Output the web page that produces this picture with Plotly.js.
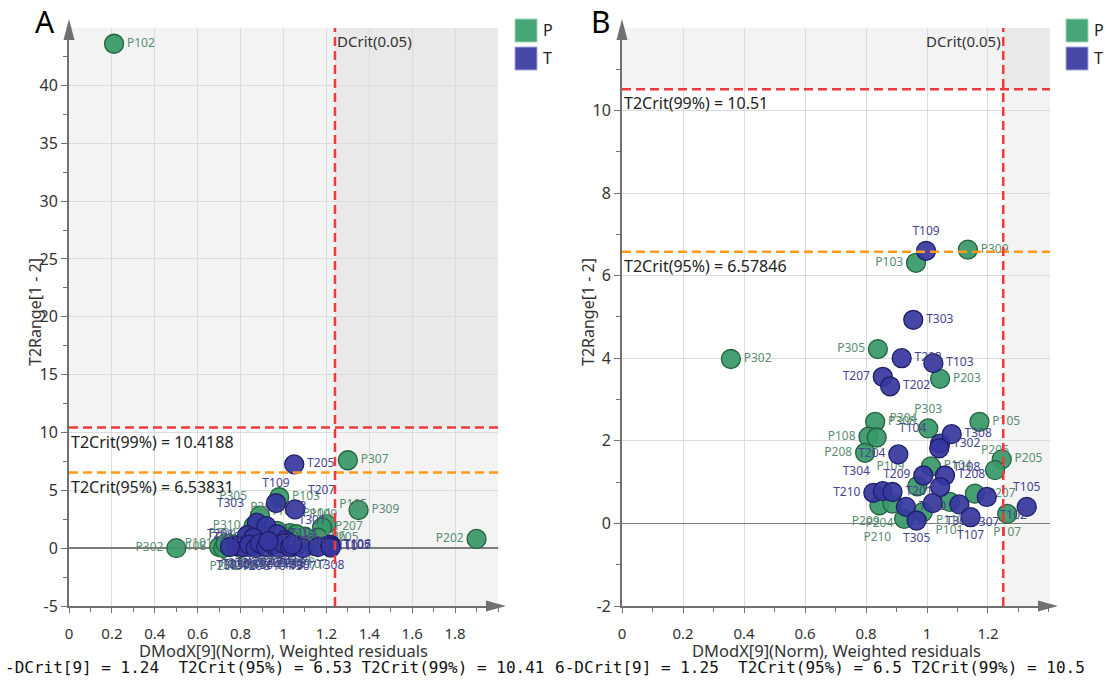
<!DOCTYPE html>
<html>
<head>
<meta charset="utf-8">
<script src="https://cdn.plot.ly/plotly-3.0.1.min.js"></script>
<style>
  html, body { margin: 0; padding: 0; background: #fff; }
  #chart { width: 1106px; height: 680px; }
</style>
</head>
<body>
<div id="chart"></div>
<script>
// ---------- Panel A: model with all observations ----------
const aPNames = ['P102','P307','P309','P202','P302','P103','P305','P310','P105','P207','P205','P108','P208','P104','P304','P301','P201','P203','P206','P209','P210','P101','P106','P107','P109','P110','P303','P204','P308','P306'];
const aPX     = [0.21, 1.30, 1.35, 1.90, 0.50, 0.98, 0.89, 0.86, 1.20, 1.18, 1.16, 0.70, 0.72, 1.03, 0.84, 0.92, 0.95, 1.00, 1.08, 0.77, 0.80, 0.73, 1.10, 1.14, 1.06, 0.97, 0.91, 0.88, 1.03, 0.86];
const aPY     = [43.6, 7.6, 3.3, 0.8, 0.0, 4.4, 2.8, 1.9, 2.1, 1.8, 0.9, 0.1, 0.0, 1.3, 1.2, 1.0, 0.3, 0.5, 0.6, 0.3, 0.0, 0.4, 1.0, 0.2, 1.2, 1.5, 1.8, 0.5, 0.8, 0.2];
const aPLabelPos = ['middle right','middle right','middle right','middle left','middle left','middle right','top left','middle left','top right','middle right','middle right','middle left','bottom center','top right','middle left','middle right','bottom center','bottom center','bottom center','bottom center','bottom center','middle left','middle right','bottom center','top right','top center','top center','bottom center','middle right','bottom center'];

const aTNames = ['T205','T109','T207','T303','T203','T201','T210','T104','T301','T108','T310','T306','T302','T206','T202','T304','T209','T101','T102','T103','T309','T307','T110','T105','T106','T107','T308','T204','T208','T305'];
const aTX     = [1.05, 0.965, 1.054, 0.876, 0.92, 0.83, 0.86, 0.97, 1.01, 1.02, 0.78, 0.81, 0.84, 0.87, 0.89, 0.92, 0.95, 0.98, 1.00, 1.03, 1.06, 1.09, 1.16, 1.22, 1.22, 1.22, 1.22, 0.93, 1.04, 0.75];
const aTY     = [7.24, 3.9, 3.35, 2.2, 1.9, 1.1, 0.9, 1.2, 0.7, 0.5, 0.2, 0.1, 0.3, 0.0, 0.4, 0.1, 0.3, 0.0, 0.4, 0.1, 0.2, 0.0, 0.1, 0.2, 0.3, 0.15, 0.05, 0.6, 0.3, 0.1];
const aTLabelPos = ['middle right','top center','top right','top left','top right','middle left','middle left','middle right','top right','middle right','bottom center','bottom center','bottom center','bottom center','bottom center','bottom center','bottom center','bottom center','bottom center','bottom center','bottom center','bottom center','middle right','middle right','middle right','middle right','bottom center','middle right','bottom center','bottom center'];

const aDCrit = 1.24, aT2Crit95 = 6.53831, aT2Crit99 = 10.4188;

// ---------- Panel B: model without the outlying observations ----------
const bPNames = ['P309','P103','P305','P302','P203','P308','P108','P304','P208','P303','P105','P205','P206','P104','P109','P207','P110','P204','P209','P210','P101','P107'];
const bPX     = [1.134, 0.964, 0.839, 0.357, 1.043, 0.830, 0.808, 0.835, 0.797, 1.004, 1.172, 1.245, 1.223, 1.013, 0.968, 1.157, 1.075, 0.844, 0.887, 0.925, 0.986, 1.263];
const bPY     = [6.63, 6.31, 4.22, 3.98, 3.50, 2.46, 2.10, 2.08, 1.71, 2.30, 2.46, 1.55, 1.29, 1.38, 0.90, 0.72, 0.52, 0.44, 0.48, 0.11, 0.27, 0.23];
const bPLabelPos = ['middle right','middle left','middle left','middle right','middle right','middle right','middle left','top right','middle left','top center','middle right','middle right','top center','middle right','top left','middle right','bottom center','bottom center','bottom left','bottom left','bottom right','bottom center'];

const bTNames = ['T109','T303','T203','T103','T207','T202','T204','T302','T104','T308','T209','T208','T108','T210','T304','T201','T110','T305','T309','T307','T107','T102','T105'];
const bTX     = [0.997, 0.955, 0.917, 1.021, 0.855, 0.879, 0.906, 1.043, 1.040, 1.081, 0.988, 1.059, 1.043, 0.824, 0.855, 0.887, 0.931, 0.966, 1.019, 1.106, 1.143, 1.196, 1.327];
const bTY     = [6.60, 4.93, 4.00, 3.88, 3.55, 3.32, 1.67, 1.93, 1.82, 2.16, 1.16, 1.16, 0.88, 0.74, 0.78, 0.76, 0.40, 0.07, 0.49, 0.46, 0.15, 0.64, 0.40];
const bTLabelPos = ['top center','middle right','middle right','middle right','middle left','middle right','middle left','middle right','top left','middle right','middle left','middle right','top right','middle left','top left','middle right','middle right','bottom center','bottom right','bottom right','bottom center','bottom right','top center'];

const bDCrit = 1.25, bT2Crit95 = 6.57846, bT2Crit99 = 10.51;

// ---------- tick labels ----------
const aXTicks = [0, 0.2, 0.4, 0.6, 0.8, 1, 1.2, 1.4, 1.6, 1.8];
const aXTickText = ['0','0.2','0.4','0.6','0.8','1','1.2','1.4','1.6','1.8'];
const aYTicks = [-5, 0, 5, 10, 15, 20, 25, 30, 35, 40];
const aYTickText = ['-5','0','5','10','15','20','25','30','35','40'];
const bXTicks = [0, 0.2, 0.4, 0.6, 0.8, 1, 1.2];
const bXTickText = ['0','0.2','0.4','0.6','0.8','1','1.2'];
const bYTicks = [-2, 0, 2, 4, 6, 8, 10];
const bYTickText = ['-2','0','2','4','6','8','10'];

const xTitle = 'DModX[9](Norm), Weighted residuals';
const yTitle = 'T2Range[1 - 2]';
const footA = '-DCrit[9] = 1.24  T2Crit(95%) = 6.53 T2Crit(99%) = 10.41';
const footB = '6-DCrit[9] = 1.25  T2Crit(95%) = 6.5 T2Crit(99%) = 10.5';

// ---------- styling ----------
const W = 1106, H = 680;
const px = x => x / W;            // page pixel -> paper x
const py = y => 1 - y / H;        // page pixel -> paper y
const FONT = 'Noto Sans, Open Sans, DejaVu Sans, sans-serif';
const GREEN = 'rgba(55,152,104,0.92)', GREEN_LINE = '#23623f', GREEN_TXT = '#5b8d72';
const BLUE = 'rgba(54,54,160,0.92)', BLUE_LINE = '#1f1f68', BLUE_TXT = '#45458e';
const AXIS = '#707070';

function pts(names, xs, ys, pos, fill, line, txt, xa, ya) {
  return {
    type: 'scatter', mode: 'markers+text', x: xs, y: ys, text: names,
    xaxis: xa, yaxis: ya, textposition: pos, cliponaxis: false,
    textfont: { family: FONT, size: 12, color: txt },
    marker: { size: 19, color: fill, line: { color: line, width: 1.3 } },
    hoverinfo: 'text', showlegend: false
  };
}

const data = [
  pts(aPNames, aPX, aPY, aPLabelPos, GREEN, GREEN_LINE, GREEN_TXT, 'x', 'y'),
  pts(aTNames, aTX, aTY, aTLabelPos, BLUE, BLUE_LINE, BLUE_TXT, 'x', 'y'),
  pts(bPNames, bPX, bPY, bPLabelPos, GREEN, GREEN_LINE, GREEN_TXT, 'x2', 'y2'),
  pts(bTNames, bTX, bTY, bTLabelPos, BLUE, BLUE_LINE, BLUE_TXT, 'x2', 'y2')
];

const aXR = [0, 2.0], aYR = [-5, 44.96];
const bXR = [0, 1.4033], bYR = [-2, 11.995];
const yDom = [py(606), py(28)];

function xAxis(dom, range, tv, tt) {
  return {
    domain: dom, range: range, tickmode: 'array', tickvals: tv, ticktext: tt,
    showgrid: true, gridcolor: '#dcdcdc', gridwidth: 1, zeroline: false,
    showline: true, linecolor: AXIS, linewidth: 2,
    ticks: 'outside', ticklen: 5, tickcolor: AXIS, ticklabelstandoff: 8,
    minor: { tickmode: 'linear', tick0: 0, dtick: 0.1, ticks: 'outside', ticklen: 4, tickcolor: AXIS, showgrid: false },
    tickfont: { family: FONT, size: 15, color: '#333' }, fixedrange: true
  };
}
function yAxis(anchor, range, tv, tt, minorStep) {
  return {
    domain: yDom, range: range, anchor: anchor, tickmode: 'array', tickvals: tv, ticktext: tt,
    showgrid: true, gridcolor: '#dcdcdc', gridwidth: 1,
    zeroline: true, zerolinecolor: '#7c7c7c', zerolinewidth: 1.5,
    showline: true, linecolor: AXIS, linewidth: 2,
    ticks: 'outside', ticklen: 6, tickcolor: AXIS,
    minor: { tickmode: 'linear', tick0: 0, dtick: minorStep, ticks: 'outside', ticklen: 4, tickcolor: AXIS, showgrid: false },
    tickfont: { family: FONT, size: 16, color: '#333' }, fixedrange: true
  };
}

const shapes = [];
const annotations = [];

function panel(xa, ya, xr, yr, dcrit, t95, t99, left, right, letter, letterX, legendX) {
  const xref = xa, yref = ya;
  // shaded zones: above T2Crit(99%) and beyond DCrit
  shapes.push({ type: 'rect', xref, yref, x0: xr[0], x1: dcrit, y0: t99, y1: yr[1], fillcolor: '#f3f3f3', line: { width: 0 }, layer: 'below' });
  shapes.push({ type: 'rect', xref, yref, x0: dcrit, x1: xr[1], y0: t99, y1: yr[1], fillcolor: '#e9e9e9', line: { width: 0 }, layer: 'below' });
  shapes.push({ type: 'rect', xref, yref, x0: dcrit, x1: xr[1], y0: yr[0], y1: t99, fillcolor: '#f3f3f3', line: { width: 0 }, layer: 'below' });
  // critical limits
  shapes.push({ type: 'line', xref, yref, x0: xr[0], x1: xr[1], y0: t99, y1: t99, line: { color: '#ee3a3a', width: 2.5, dash: '9px,5px' }, layer: 'above' });
  shapes.push({ type: 'line', xref, yref, x0: xr[0], x1: xr[1], y0: t95, y1: t95, line: { color: '#ff9a1a', width: 2.5, dash: '9px,5px' }, layer: 'above' });
  shapes.push({ type: 'line', xref, yref, x0: dcrit, x1: dcrit, y0: yr[0], y1: yr[1], line: { color: '#ee3a3a', width: 2.5, dash: '9px,5px' }, layer: 'above' });
  // axis arrow heads
  shapes.push({ type: 'path', xref: 'paper', yref: 'paper',
    path: `M ${px(left)} ${py(19)} L ${px(left - 5.5)} ${py(40)} L ${px(left + 5.5)} ${py(40)} Z`,
    fillcolor: AXIS, line: { width: 0 } });
  shapes.push({ type: 'path', xref: 'paper', yref: 'paper',
    path: `M ${px(right + 8)} ${py(606)} L ${px(right - 12)} ${py(600.5)} L ${px(right - 12)} ${py(611.5)} Z`,
    fillcolor: AXIS, line: { width: 0 } });
  // limit labels
  annotations.push({ xref, yref, x: xr[0], y: t99, xanchor: 'left', yanchor: 'top', yshift: -1, showarrow: false,
    text: `T2Crit(99%) = ${t99}`, font: { family: FONT, size: 16, color: '#222' } });
  annotations.push({ xref, yref, x: xr[0], y: t95, xanchor: 'left', yanchor: 'top', yshift: -1, showarrow: false,
    text: `T2Crit(95%) = ${t95}`, font: { family: FONT, size: 16, color: '#222' } });
  // panel letter
  annotations.push({ xref: 'paper', yref: 'paper', x: px(letterX), y: py(22), xanchor: 'center', yanchor: 'middle', showarrow: false,
    text: letter, font: { family: FONT, size: 30, color: '#000' } });
  // axis titles
  annotations.push({ xref: 'paper', yref: 'paper', x: px((left + right) / 2), y: py(650), xanchor: 'center', yanchor: 'middle', showarrow: false,
    text: xTitle, font: { family: FONT, size: 16.5, color: '#333' } });
  annotations.push({ xref: 'paper', yref: 'paper', x: px(left - 34), y: py(312), xanchor: 'center', yanchor: 'middle', textangle: -90, showarrow: false,
    text: yTitle, font: { family: FONT, size: 16, color: '#333' } });
  // class key
  shapes.push({ type: 'rect', xref: 'paper', yref: 'paper', x0: px(legendX), x1: px(legendX + 22), y0: py(19), y1: py(42),
    fillcolor: '#47a678', line: { color: '#9fd3b8', width: 1 } });
  shapes.push({ type: 'rect', xref: 'paper', yref: 'paper', x0: px(legendX), x1: px(legendX + 22), y0: py(47), y1: py(70),
    fillcolor: '#4848a8', line: { color: '#a8a8d8', width: 1 } });
  annotations.push({ xref: 'paper', yref: 'paper', x: px(legendX + 26), y: py(30), xanchor: 'left', yanchor: 'middle', showarrow: false,
    text: 'P', font: { family: FONT, size: 16, color: '#222' } });
  annotations.push({ xref: 'paper', yref: 'paper', x: px(legendX + 26), y: py(58), xanchor: 'left', yanchor: 'middle', showarrow: false,
    text: 'T', font: { family: FONT, size: 16, color: '#222' } });
}

panel('x', 'y', aXR, aYR, aDCrit, aT2Crit95, aT2Crit99, 69, 498, 'A', 45, 515);
panel('x2', 'y2', bXR, bYR, bDCrit, bT2Crit95, bT2Crit99, 622, 1050, 'B', 601, 1066);

// DCrit labels
annotations.push({ xref: 'x', yref: 'paper', x: aDCrit, y: py(41), xanchor: 'left', yanchor: 'middle', showarrow: false,
  text: 'DCrit(0.05)', font: { family: FONT, size: 15, color: '#333' } });
annotations.push({ xref: 'x2', yref: 'paper', x: bDCrit, y: py(41), xanchor: 'right', yanchor: 'middle', showarrow: false,
  text: 'DCrit(0.05)', font: { family: FONT, size: 15, color: '#333' } });

// footer lines
annotations.push({ xref: 'paper', yref: 'paper', x: px(3), y: py(667), xanchor: 'left', yanchor: 'middle', showarrow: false,
  text: footA, font: { family: 'DejaVu Sans Mono, monospace', size: 16, color: '#111' } });
annotations.push({ xref: 'paper', yref: 'paper', x: px(553), y: py(667), xanchor: 'left', yanchor: 'middle', showarrow: false,
  text: footB, font: { family: 'DejaVu Sans Mono, monospace', size: 16, color: '#111' } });

const layout = {
  width: W, height: H,
  margin: { l: 0, r: 0, t: 0, b: 0 },
  paper_bgcolor: '#ffffff', plot_bgcolor: '#ffffff',
  showlegend: false,
  xaxis: Object.assign(xAxis([px(69), px(498)], aXR, aXTicks, aXTickText), { anchor: 'y' }),
  yaxis: yAxis('x', aYR, aYTicks, aYTickText, 2.5),
  xaxis2: Object.assign(xAxis([px(622), px(1050)], bXR, bXTicks, bXTickText), { anchor: 'y2' }),
  yaxis2: yAxis('x2', bYR, bYTicks, bYTickText, 1),
  shapes: shapes,
  annotations: annotations
};

Plotly.newPlot('chart', data, layout, { staticPlot: true, displayModeBar: false });
</script>
</body>
</html>
